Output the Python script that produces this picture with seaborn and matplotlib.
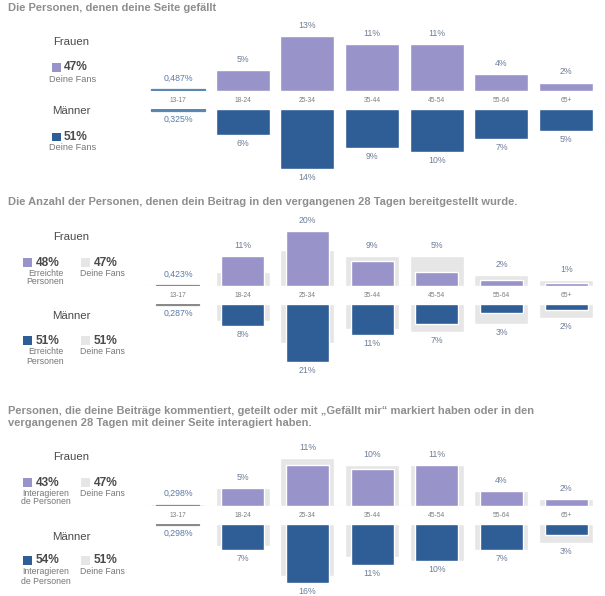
import matplotlib
matplotlib.use("Agg")
import matplotlib.pyplot as plt
import seaborn as sns
from matplotlib.patches import Rectangle

# Altersgruppen
ages = ["13-17", "18-24", "25-34", "35-44", "45-54", "55-64", "65+"]

# Fans (Panel 1, auch graue Vergleichsbalken in Panel 2 und 3)
fans_women = [0.487, 5, 13, 11, 11, 4, 2]
fans_men = [0.325, 6, 14, 9, 10, 7, 5]

# Erreichte Personen (Panel 2)
reach_women = [0.423, 11, 20, 9, 5, 2, 1]
reach_men = [0.287, 8, 21, 11, 7, 3, 2]

# Interagierende Personen (Panel 3)
engaged_women = [0.298, 5, 11, 10, 11, 4, 2]
engaged_men = [0.298, 7, 16, 11, 10, 7, 3]

titles = [
    "Die Personen, denen deine Seite gefällt",
    "Die Anzahl der Personen, denen dein Beitrag in den vergangenen 28 Tagen bereitgestellt wurde.",
    "Personen, die deine Beiträge kommentiert, geteilt oder mit \u201eGefällt mir\u201c markiert haben oder in den\n"
    "vergangenen 28 Tagen mit deiner Seite interagiert haben.",
]
share_women = ["47%", "48%", "43%"]
share_men = ["51%", "51%", "54%"]
share_fans_women = "47%"
share_fans_men = "51%"
series_names = [["Deine Fans"], ["Erreichte", "Personen"], ["Interagieren", "de Personen"]]

WOMEN = "#9894c9"
MEN = "#2e5e95"
FAN_GREY = "#e6e6e6"
VALUE_COL = "#6f7e98"
W, H = 605, 596

sns.set_theme(style="white")
plt.rcParams["font.family"] = ["Liberation Sans", "DejaVu Sans"]

fig = plt.figure(figsize=(W / 100, H / 100), dpi=100)
fig.patch.set_facecolor("white")


def px_axes(left, top, width, height):
    return fig.add_axes([left / W, 1 - (top + height) / H, width / W, height / H])


def ftext(x, y, s, **kw):
    fig.text(x / W, 1 - y / H, s, **kw)


def square(x, y, size, color):
    fig.add_artist(Rectangle((x / W, 1 - (y + size / 2) / H), size / W, size / H,
                             transform=fig.transFigure, color=color, lw=0))


def fmt(v):
    if v < 1:
        return f"{v:.3f}".replace(".", ",") + "%"
    return f"{v:.0f}%"


def draw_half(ax, vals, fans, color, width, tiny_color, below):
    if fans is not None:
        sns.barplot(x=ages, y=fans, ax=ax, color=FAN_GREY, width=0.835,
                    saturation=1, errorbar=None, order=ages)
    sns.barplot(x=ages, y=vals, ax=ax, color=color, width=width,
                saturation=1, errorbar=None, order=ages)
    for patch, v in zip(ax.patches[-len(ages):], vals):
        if v < 1:
            patch.set_facecolor(tiny_color)
            patch.set_edgecolor(tiny_color)
            patch.set_linewidth(0.9)
    for i, v in enumerate(vals):
        top = v if fans is None else max(v, fans[i])
        off = -8.5 if below else 10.5
        ax.annotate(fmt(v), (i, top), xytext=(0, off), textcoords="offset pixels",
                    ha="center", va="center", fontsize=6.3,
                    color="#5b7aa8" if v < 1 else VALUE_COL)
    ax.set_xlim(-0.587, 6.6)
    ax.axis("off")


panels = [
    dict(base=91, men_top=109.3, scale=4.25, women=fans_women, men=fans_men,
         fans_w=None, fans_m=None, width=0.835, tiny="#5b86b4", title_y=8),
    dict(base=286, men_top=304.3, scale=2.75, women=reach_women, men=reach_men,
         fans_w=fans_women, fans_m=fans_men, width=0.665, tiny="#8a8a8a", title_y=202),
    dict(base=506, men_top=524, scale=3.7, women=engaged_women, men=engaged_men,
         fans_w=fans_women, fans_m=fans_men, width=0.665, tiny="#8a8a8a", title_y=417),
]

legend_rows = [
    dict(fr=41.7, row_w=67.5, sub_w=[79], ma=111, row_m=137, sub_m=[148]),
    dict(fr=236.7, row_w=262.7, sub_w=[273, 282], ma=316, row_m=340.7, sub_m=[352, 361.5]),
    dict(fr=456.7, row_w=482.7, sub_w=[493, 501.7], ma=536.7, row_m=560, sub_m=[571.7, 581]),
]

half_h = 75
for k, p in enumerate(panels):
    # Titel
    ftext(8, p["title_y"], titles[k], ha="left", va="center", fontsize=8,
          fontweight="bold", color="#8e8e8e", linespacing=1.3)

    ax_w = px_axes(140, p["base"] - half_h, 465, half_h)
    draw_half(ax_w, p["women"], p["fans_w"], WOMEN, p["width"], p["tiny"], False)
    ax_w.set_ylim(0, half_h / p["scale"])
    if p["fans_w"] is not None:
        ax_w.axhline(0, color="#eaeaea", lw=0.8, zorder=0)
    for i, a in enumerate(ages):
        ax_w.annotate(a, (i, 0), xytext=(0, -9.3), textcoords="offset pixels",
                      ha="center", va="center", fontsize=4.8, color="#7d7d7d")

    ax_m = px_axes(140, p["men_top"], 465, half_h)
    draw_half(ax_m, p["men"], p["fans_m"], MEN, p["width"], p["tiny"], True)
    ax_m.set_ylim(half_h / p["scale"], 0)

    # Legende links
    lr = legend_rows[k]
    ftext(71, lr["fr"], "Frauen", ha="center", va="center", fontsize=8.2, color="#4a4a4a")
    ftext(71, lr["ma"], "Männer", ha="center", va="center", fontsize=8.2, color="#4a4a4a")
    if k == 0:
        for row, sub, col, share in [(lr["row_w"], lr["sub_w"], WOMEN, share_women[k]),
                                     (lr["row_m"], lr["sub_m"], MEN, share_men[k])]:
            square(52, row, 8.5, col)
            ftext(64, row, share, ha="left", va="center", fontsize=8.6,
                  fontweight="bold", color="#4a4a4a")
            ftext(72.5, sub[0], series_names[k][0], ha="center", va="center",
                  fontsize=6.6, color="#777777")
    else:
        for row, subs, col, share, fshare in [
                (lr["row_w"], lr["sub_w"], WOMEN, share_women[k], share_fans_women),
                (lr["row_m"], lr["sub_m"], MEN, share_men[k], share_fans_men)]:
            square(23, row, 9, col)
            ftext(36, row, share, ha="left", va="center", fontsize=8.6,
                  fontweight="bold", color="#4a4a4a")
            for yy, line in zip(subs, series_names[k]):
                ftext(45.5, yy, line, ha="center", va="center", fontsize=6.3, color="#777777")
            square(81, row, 9, FAN_GREY)
            ftext(94, row, fshare, ha="left", va="center", fontsize=8.6,
                  fontweight="bold", color="#4a4a4a")
            ftext(102.5, subs[0], "Deine Fans", ha="center", va="center",
                  fontsize=6.3, color="#777777")

fig.savefig("out.png", dpi=100, facecolor="white")
